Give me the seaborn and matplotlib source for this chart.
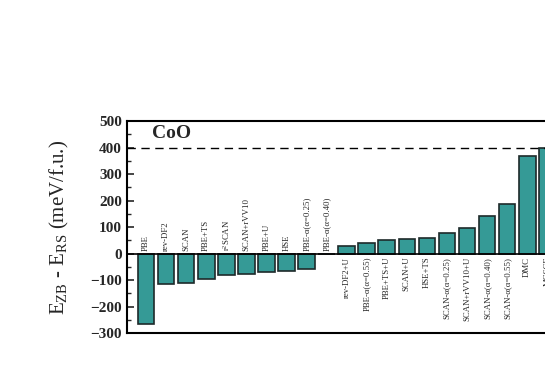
import matplotlib
matplotlib.use("Agg")
import matplotlib.pyplot as plt
import seaborn as sns
import pandas as pd
from matplotlib.ticker import MultipleLocator

# methods and E_ZB - E_RS for CoO (meV/f.u.)
methods = ["PBE", "rev-DF2", "SCAN", "PBE+TS", "r$^2$SCAN", "SCAN+rVV10",
           "PBE+U", "HSE", "PBE-α(α=0.25)", "PBE-α(α=0.40)",
           "rev-DF2+U", "PBE-α(α=0.55)", "PBE+TS+U", "SCAN+U", "HSE+TS",
           "SCAN-α(α=0.25)", "SCAN+rVV10+U", "SCAN-α(α=0.40)",
           "SCAN-α(α=0.55)", "DMC", "MCSCF"]
energy = [-264, -116, -112, -96, -79, -78, -69, -64, -59, -3,
          30, 40, 51, 54, 60, 76, 95, 142, 188, 369, 398]
ref_line = 400

df = pd.DataFrame({"method": methods, "energy": energy})

sns.set_style("ticks")
plt.rcParams["font.family"] = ["Liberation Serif", "DejaVu Serif"]
plt.rcParams["mathtext.fontset"] = "custom"
plt.rcParams["mathtext.rm"] = "Liberation Serif"
plt.rcParams["mathtext.it"] = "Liberation Serif:italic"
plt.rcParams["mathtext.bf"] = "Liberation Serif:bold"

fig = plt.figure(figsize=(5.45, 3.82), dpi=100)
# axes runs past the right edge of the figure, like the cropped original
ax = fig.add_axes([0.233, 0.128, 0.808, 0.555])

sns.barplot(data=df, x="method", y="energy", color="#359a96", saturation=1,
            edgecolor="#1e2a2a", linewidth=1.2, width=0.83, ax=ax)

ax.axhline(0, color="black", lw=1.2, zorder=3)
ax.axhline(ref_line, color="black", lw=1.0, ls=(0, (6, 4)))

# method names written next to the zero line
for i, (m, e) in enumerate(zip(methods, energy)):
    if e < 0:
        ax.text(i, 10, m, rotation=90, ha="center", va="bottom", fontsize=6.3)
    else:
        ax.text(i, -12, m, rotation=90, ha="center", va="top", fontsize=6.3)

ax.text(0.3, 452, "CoO", fontsize=14, fontweight="bold", va="center")

ax.set_xlim(-0.95, 21.0)
ax.set_ylim(-300, 500)
ax.set_xticks([])
ax.set_xlabel("")
ax.yaxis.set_major_locator(MultipleLocator(100))
ax.yaxis.set_minor_locator(MultipleLocator(50))
ax.tick_params(axis="y", which="major", direction="in", length=5, width=1.2,
               labelsize=11)
ax.tick_params(axis="y", which="minor", direction="in", length=3, width=1.0)
for lab in ax.get_yticklabels():
    lab.set_fontweight("bold")
for s in ax.spines.values():
    s.set_linewidth(1.5)
    s.set_color("black")

ax.set_ylabel("E$_{\\mathrm{ZB}}$ - E$_{\\mathrm{RS}}$ (meV/f.u.)", fontsize=15,
              labelpad=14)

fig.savefig("out.png", dpi=100)
